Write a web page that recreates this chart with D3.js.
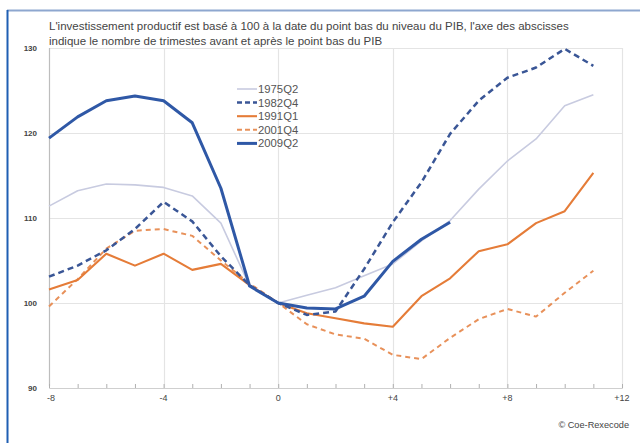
<!DOCTYPE html>
<html><head><meta charset="utf-8">
<script src="https://cdn.jsdelivr.net/npm/d3@7"></script>
<style>body{margin:0;background:#fff;}svg{display:block;font-family:"Liberation Sans",Arial,sans-serif;}</style>
</head><body>
<svg id="c" width="640" height="443"></svg>
<script>
const quarters = [-8,-7,-6,-5,-4,-3,-2,-1,0,1,2,3,4,5,6,7,8,9,10,11];
const s1975Q2 = [111.4,113.2,114.0,113.9,113.6,112.6,109.4,102.0,100,100.9,101.8,103.2,104.6,107.3,109.7,113.4,116.7,119.3,123.2,124.5];
const s1982Q4 = [103.1,104.4,106.2,108.7,111.9,109.6,105.5,102.1,100,98.6,99.0,104.0,109.5,114.2,119.9,123.8,126.5,127.7,129.9,127.9];
const s1991Q1 = [101.6,102.7,105.8,104.4,105.8,103.9,104.6,102.1,100,98.8,98.2,97.6,97.2,100.8,102.9,106.1,106.9,109.4,110.8,115.3];
const s2001Q4 = [99.6,102.8,106.4,108.5,108.7,107.9,105.0,102.3,100,97.5,96.3,95.8,93.9,93.4,95.9,98.1,99.3,98.4,101.2,103.8];
const s2009Q2 = [119.4,121.9,123.8,124.35,123.8,121.2,113.5,102.0,100,99.4,99.3,100.8,104.9,107.5,109.5];
const seriesNames = ["1975Q2","1982Q4","1991Q1","2001Q4","2009Q2"];
const xTicks = [-8,-4,0,4,8,12];
const yTicks = [90,100,110,120,130];
const titleLines = ["L'investissement productif est basé à 100 à la date du point bas du niveau du PIB, l'axe des abscisses",
                    "indique le nombre de trimestes avant et après le point bas du PIB"];
const source = "© Coe-Rexecode";

const styles = {
  "1975Q2":{color:"#c8cbe0",w:1.6,dash:null},
  "1982Q4":{color:"#3a5696",w:2.5,dash:"6,4"},
  "1991Q1":{color:"#e57c38",w:2.1,dash:null},
  "2001Q4":{color:"#e8915a",w:2.0,dash:"5,4"},
  "2009Q2":{color:"#2f58a6",w:3.0,dash:null}
};
const dataMap = {"1975Q2":s1975Q2,"1982Q4":s1982Q4,"1991Q1":s1991Q1,"2001Q4":s2001Q4,"2009Q2":s2009Q2};

const svg = d3.select("#c");
const L=49,R=622,T=48,B=388;
const x = d3.scaleLinear().domain([-8,12]).range([L,R]);
const y = d3.scaleLinear().domain([90,130]).range([B,T]);

// outer frame
svg.append("line").attr("x1",7).attr("x2",640).attr("y1",10.5).attr("y2",10.5).attr("stroke","#8ea7cf").attr("stroke-width",2);
svg.append("line").attr("x1",7.5).attr("x2",7.5).attr("y1",10).attr("y2",443).attr("stroke","#1f5fb3").attr("stroke-width",2);

// title
titleLines.forEach((t,i)=>{
  svg.append("text").attr("x",49).attr("y",30+i*15).attr("font-size",11.5).attr("fill","#444").text(t);
});

// grid
const g = svg.append("g");
g.selectAll(".hg").data(yTicks.filter(d=>d>90)).join("line")
  .attr("x1",L).attr("x2",R).attr("y1",d=>Math.round(y(d))+0.5).attr("y2",d=>Math.round(y(d))+0.5)
  .attr("stroke","#e4e4e4").attr("stroke-width",1.2);
g.selectAll(".vg").data(xTicks.filter(d=>d>-8)).join("line")
  .attr("y1",T).attr("y2",B).attr("x1",d=>Math.round(x(d))+0.5).attr("x2",d=>Math.round(x(d))+0.5)
  .attr("stroke","#e4e4e4").attr("stroke-width",1.2);
// left axis line
g.append("line").attr("x1",L+0.5).attr("x2",L+0.5).attr("y1",T).attr("y2",B-2).attr("stroke","#bdbdbd").attr("stroke-width",1.2);

// x axis
const xAxis = d3.axisBottom(x).tickValues(d3.range(-8,13)).tickSize(-4).tickFormat("");
const xa = svg.append("g").attr("transform",`translate(0,${B})`).call(xAxis);
xa.select(".domain").attr("stroke","#cfcfcf");
xa.selectAll(".tick line").attr("stroke","#b0b0b0");
svg.selectAll(".xl").data(xTicks).join("text")
  .attr("x",d=>x(d)+(d===-8?2:0)).attr("y",401).attr("text-anchor","middle")
  .attr("font-size",9).attr("fill","#444")
  .text(d=>d>0?"+"+d:String(d));

// y labels
const yAxis = d3.axisLeft(y).tickValues(yTicks).tickSize(0).tickPadding(12);
const ya = svg.append("g").attr("transform",`translate(${L},0)`).call(yAxis);
ya.select(".domain").remove();
ya.selectAll("text").attr("font-size",8).attr("fill","#444").attr("font-weight","bold").attr("font-family","Liberation Sans, Arial, sans-serif");

// lines
const line = d3.line().x((d,i)=>x(quarters[i])).y(d=>y(d));
["1975Q2","2001Q4","1991Q1","1982Q4","2009Q2"].forEach(n=>{
  const s = styles[n];
  svg.append("path").datum(dataMap[n]).attr("d",line)
    .attr("fill","none").attr("stroke",s.color).attr("stroke-width",s.w)
    .attr("stroke-dasharray",s.dash).attr("stroke-linejoin","round");
});

// legend
const lg = svg.append("g").attr("transform","translate(237,89)");
seriesNames.forEach((n,i)=>{
  const s = styles[n];
  const yy = i*13.6;
  lg.append("line").attr("x1",0).attr("x2",20).attr("y1",yy).attr("y2",yy)
    .attr("stroke",s.color).attr("stroke-width",s.w).attr("stroke-dasharray",s.dash?"5,3":null);
  lg.append("text").attr("x",21).attr("y",yy+4).attr("font-size",11.3).attr("fill","#555").text(n);
});

// source
svg.append("text").attr("x",629).attr("y",428).attr("text-anchor","end").attr("font-size",9.2).attr("fill","#444").text(source);
</script>
</body></html>
